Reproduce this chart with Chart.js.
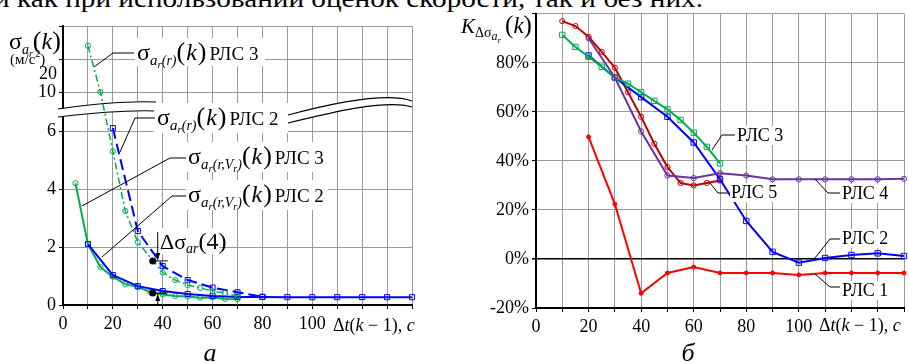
<!DOCTYPE html>
<html>
<head>
<meta charset="utf-8">
<script src="https://cdn.jsdelivr.net/npm/chart.js@4.4.1/dist/chart.umd.min.js"></script>
<style>
  html, body { margin: 0; padding: 0; background: #fff; }
  body { width: 909px; height: 363px; position: relative; overflow: hidden; }
  #left { position: absolute; left: 0; top: 0; }
  #right { position: absolute; left: 450px; top: 0; }
  #cap { position: absolute; left: 0; top: 0; }
</style>
</head>
<body>
<svg id="cap" width="909" height="20">
  <text x="-6" y="7" font-family="'Liberation Serif', 'Times New Roman', serif" font-size="26" textLength="709" lengthAdjust="spacingAndGlyphs">и как при использовании оценок скорости, так и без них.</text>
</svg>
<canvas id="left" width="450" height="363"></canvas>
<canvas id="right" width="459" height="363"></canvas>
<script>
const SERIF = '"Liberation Serif", "Times New Roman", serif';

// ---- chart a: sigma a_r (m/s^2) vs dt(k-1), s ----
const rVr3X = [5, 10, 15, 20, 25, 30, 35, 40, 45, 50, 55, 60, 65, 70];
const rVr3Y = [4.2, 2.1, 1.31, 0.97, 0.72, 0.62, 0.45, 0.36, 0.31, 0.29, 0.25, 0.26, 0.21, 0.2];
const rVr2X = [10, 20, 30, 40, 50, 60, 70, 80, 90, 100, 110, 120, 130, 140];
const rVr2Y = [2.1, 1.03, 0.65, 0.48, 0.38, 0.31, 0.28, 0.28, 0.27, 0.27, 0.27, 0.27, 0.27, 0.27];
const r3X = [10, 15, 20, 25, 30, 40, 45, 50, 55, 60, 65, 70];
const r3Y = [24, 10, 5.3, 3.24, 2.17, 1.12, 0.86, 0.69, 0.59, 0.48, 0.41, 0.3];
const r2X = [20, 30, 40, 50, 60, 70, 80];
const r2Y = [6.1, 2.55, 1.34, 0.86, 0.6, 0.44, 0.28];
const leftXLabels = [0, 20, 40, 60, 80, 100];
const leftYTicks = [0, 2, 4, 6, 10, 20, 30];
const deltaX = 36;
const deltaY = [1.52, 0.41];

// ---- chart b: K (%) vs dt(k-1), s ----
const rls1X = [20, 30, 40, 50, 60, 70, 80, 90, 100, 110, 120, 130, 140];
const rls1Y = [49.8, 22.4, -14, -5.7, -3.3, -5.7, -5.7, -5.7, -6.5, -5.7, -5.7, -5.7, -5.7];
const rls2X = [20, 30, 40, 50, 60, 70, 80, 90, 100, 110, 120, 130, 140];
const rls2Y = [83, 74, 66, 58, 47.5, 32.5, 15.5, 2.9, -1.5, 0.4, 1.6, 2.3, 1.2];
const rls3X = [10, 15, 20, 25, 30, 35, 40, 45, 50, 55, 60, 65, 70];
const rls3Y = [91.4, 86.5, 82.5, 78.4, 74, 71.5, 68, 64.5, 61, 56.7, 51.5, 45.7, 39];
const rls4X = [20, 30, 40, 50, 60, 70, 80, 90, 100, 110, 120, 130, 140];
const rls4Y = [90, 74, 52, 34, 33, 35, 34, 32.5, 32.5, 32.5, 32.5, 32.5, 32.7];
const rls5X = [10, 15, 20, 25, 30, 35, 40, 45, 50, 55, 60, 65, 70];
const rls5Y = [97, 95, 90.6, 84.5, 78, 68, 58, 47, 37.5, 31, 30, 31, 32];
const rightXLabels = [0, 20, 40, 60, 80, 100];

// broken y axis of chart a: linear up to 7, squeezed 7..10, compressed above 10
function toD(v) {
  if (v <= 7) return v;
  if (v < 10) return 7 + (v - 7) * 0.115;
  return 7.345 + (v - 10) * 0.1138;
}
const pts = (xs, ys, f) => xs.map((x, i) => ({ x: x, y: f ? f(ys[i]) : ys[i] }));

function rich(ctx, x, y, parts) {
  ctx.textAlign = 'left';
  ctx.textBaseline = 'alphabetic';
  for (const p of parts) {
    ctx.font = p.f;
    ctx.fillText(p.t, x, y + (p.dy || 0));
    x += ctx.measureText(p.t).width + (p.sp || 0);
  }
  return x;
}
function poly(ctx, arr) {
  ctx.beginPath();
  ctx.moveTo(arr[0][0], arr[0][1]);
  for (let i = 1; i < arr.length; i++) ctx.lineTo(arr[i][0], arr[i][1]);
  ctx.stroke();
}
function whiteBox(ctx, x, y, w, h) {
  ctx.fillStyle = '#fff';
  ctx.fillRect(x, y, w, h);
  ctx.fillStyle = '#000';
}
function sigmaLabel(ctx, x, y, withV, rls) {
  const parts = [
    { t: 'σ', f: `24px ${SERIF}` },
    { t: 'a', f: `italic 15px ${SERIF}`, dy: 5 },
    { t: 'r', f: `italic 11px ${SERIF}`, dy: 8 },
    { t: withV ? '(r,' : '(r)', f: `italic 14px ${SERIF}`, dy: 5 }
  ];
  if (withV) {
    parts.push({ t: 'V', f: `italic 14px ${SERIF}`, dy: 5 });
    parts.push({ t: 'r', f: `italic 10px ${SERIF}`, dy: 8 });
    parts.push({ t: ')', f: `italic 14px ${SERIF}`, dy: 5 });
  }
  parts.push({ t: '(', f: `26px ${SERIF}`, sp: 1 });
  parts.push({ t: 'k', f: `italic 24px ${SERIF}`, sp: 1 });
  parts.push({ t: ')', f: `26px ${SERIF}`, sp: 3 });
  parts.push({ t: 'РЛС ' + rls, f: `19px ${SERIF}` });
  return rich(ctx, x, y, parts);
}

const leftDecor = {
  id: 'leftDecor',
  beforeDatasetsDraw(chart) {
    const ctx = chart.ctx;
    ctx.save();
    // axis break band
    const bands = [
      [[58, 109], [100, 103], [133, 101], [156, 102], [156, 111], [133, 110], [100, 112], [58, 117]],
      [[288, 115], [333, 103], [387, 92], [412, 101], [412, 107], [387, 99], [333, 112], [288, 123]]
    ];
    for (const b of bands) {
      ctx.fillStyle = '#fff';
      ctx.beginPath();
      ctx.moveTo(b[0][0], b[0][1]);
      ctx.bezierCurveTo(b[1][0], b[1][1], b[2][0], b[2][1], b[3][0], b[3][1]);
      ctx.lineTo(b[4][0], b[4][1]);
      ctx.bezierCurveTo(b[5][0], b[5][1], b[6][0], b[6][1], b[7][0], b[7][1]);
      ctx.closePath();
      ctx.fill();
      ctx.strokeStyle = '#000';
      ctx.lineWidth = 1.2;
      ctx.beginPath();
      ctx.moveTo(b[0][0], b[0][1]);
      ctx.bezierCurveTo(b[1][0], b[1][1], b[2][0], b[2][1], b[3][0], b[3][1]);
      ctx.stroke();
      ctx.beginPath();
      ctx.moveTo(b[7][0], b[7][1]);
      ctx.bezierCurveTo(b[6][0], b[6][1], b[5][0], b[5][1], b[4][0], b[4][1]);
      ctx.stroke();
    }
    ctx.restore();
  },
  afterDraw(chart) {
    const ctx = chart.ctx;
    const xs = chart.scales.x, ys = chart.scales.y;
    ctx.save();
    ctx.fillStyle = '#000';
    ctx.strokeStyle = '#000';
    ctx.lineWidth = 1;
    // y title
    rich(ctx, 9, 49, [
      { t: 'σ', f: `24px ${SERIF}` },
      { t: 'a', f: `italic 14px ${SERIF}`, dy: 5 },
      { t: 'r', f: `italic 10px ${SERIF}`, dy: 8 },
      { t: '(', f: `26px ${SERIF}` },
      { t: 'k', f: `italic 24px ${SERIF}` },
      { t: ')', f: `26px ${SERIF}` }
    ]);
    rich(ctx, 10, 64, [
      { t: '(м/с', f: `15px ${SERIF}` },
      { t: '2', f: `10px ${SERIF}`, dy: -7 },
      { t: ')', f: `15px ${SERIF}` }
    ]);
    ctx.font = `18px ${SERIF}`;
    ctx.textAlign = 'right';
    ctx.fillText('20', 57, 79);
    // x title and panel letter
    rich(ctx, 333, 331, [
      { t: 'Δ', f: `18px ${SERIF}` },
      { t: 't', f: `italic 18px ${SERIF}` },
      { t: '(', f: `18px ${SERIF}` },
      { t: 'k', f: `italic 18px ${SERIF}` },
      { t: ' − 1), ', f: `18px ${SERIF}` },
      { t: 'с', f: `italic 18px ${SERIF}` }
    ]);
    ctx.font = `italic 26px ${SERIF}`;
    ctx.textAlign = 'center';
    ctx.fillText('а', 210, 361);

    // curve labels
    whiteBox(ctx, 135, 38, 130, 28);
    sigmaLabel(ctx, 137, 60, false, 3);
    poly(ctx, [[94, 67], [113, 53], [134, 53]]);
    whiteBox(ctx, 154, 103, 134, 30);
    sigmaLabel(ctx, 157, 125, false, 2);
    poly(ctx, [[120, 152], [135, 118], [155, 118]]);
    whiteBox(ctx, 186, 142, 142, 30);
    sigmaLabel(ctx, 188, 164, true, 3);
    poly(ctx, [[82, 206], [170, 158], [186, 158]]);
    whiteBox(ctx, 186, 180, 142, 30);
    sigmaLabel(ctx, 188, 202, true, 2);
    poly(ctx, [[102, 257], [172, 196], [186, 196]]);

    // delta sigma marker
    const dx = xs.getPixelForValue(deltaX);
    const ax = xs.getPixelForValue(deltaX + 2);
    const ex = xs.getPixelForValue(deltaX + 6);
    const y1 = ys.getPixelForValue(toD(deltaY[0]));
    const y2 = ys.getPixelForValue(toD(deltaY[1]));
    whiteBox(ctx, 159, 228, 60, 26);
    rich(ctx, 160, 249, [
      { t: 'Δσ', f: `22px ${SERIF}` },
      { t: 'ar', f: `italic 14px ${SERIF}`, dy: 4 },
      { t: '(4)', f: `24px ${SERIF}` }
    ]);
    for (const yy of [y1, y2]) {
      ctx.beginPath();
      ctx.arc(dx, yy, 3.5, 0, Math.PI * 2);
      ctx.fill();
      poly(ctx, [[dx, yy], [ex, yy]]);
    }
    poly(ctx, [[ax, 232], [ax, y1 - 1]]);
    ctx.beginPath();
    ctx.moveTo(ax, y1 - 1); ctx.lineTo(ax - 2.5, y1 - 8); ctx.lineTo(ax + 2.5, y1 - 8); ctx.closePath(); ctx.fill();
    poly(ctx, [[ax, 306], [ax, y2 + 1]]);
    ctx.beginPath();
    ctx.moveTo(ax, y2 + 1); ctx.lineTo(ax - 2.5, y2 + 8); ctx.lineTo(ax + 2.5, y2 + 8); ctx.closePath(); ctx.fill();
    ctx.restore();
  }
};

const rightDecor = {
  id: 'rightDecor',
  afterDraw(chart) {
    const ctx = chart.ctx;
    ctx.save();
    ctx.translate(-450, 0);
    ctx.fillStyle = '#000';
    ctx.strokeStyle = '#000';
    ctx.lineWidth = 1;
    rich(ctx, 461, 33, [
      { t: 'K', f: `italic 21px ${SERIF}` },
      { t: 'Δσ', f: `14px ${SERIF}`, dy: 4 },
      { t: 'a', f: `italic 12px ${SERIF}`, dy: 7 },
      { t: 'r', f: `italic 9px ${SERIF}`, dy: 10, sp: 4 },
      { t: '(', f: `25px ${SERIF}` },
      { t: 'k', f: `italic 23px ${SERIF}` },
      { t: ')', f: `25px ${SERIF}` }
    ]);
    rich(ctx, 819, 331, [
      { t: 'Δ', f: `18px ${SERIF}` },
      { t: 't', f: `italic 18px ${SERIF}` },
      { t: '(', f: `18px ${SERIF}` },
      { t: 'k', f: `italic 18px ${SERIF}` },
      { t: ' − 1), ', f: `18px ${SERIF}` },
      { t: 'с', f: `italic 18px ${SERIF}` }
    ]);
    ctx.font = `italic 26px ${SERIF}`;
    ctx.textAlign = 'center';
    ctx.fillText('б', 688, 361);

    const labels = [
      ['РЛС 3', 737, 141, [[712, 150], [722, 135], [735, 135]]],
      ['РЛС 5', 731, 198, [[710, 183], [718, 193], [729, 193]]],
      ['РЛС 4', 842, 199, [[815, 179], [828, 193], [840, 193]]],
      ['РЛС 2', 842, 244, [[815, 258], [830, 239], [840, 239]]],
      ['РЛС 1', 842, 296, [[815, 274], [830, 287], [840, 287]]]
    ];
    for (const [t, x, y, line] of labels) {
      ctx.font = `18px ${SERIF}`;
      const w = ctx.measureText(t).width;
      whiteBox(ctx, x - 1, y - 15, w + 3, 19);
      ctx.textAlign = 'left';
      ctx.fillText(t, x, y);
      poly(ctx, line);
    }
    ctx.restore();
  }
};

const tickFont = { family: SERIF, size: 18 };

new Chart(document.getElementById('left'), {
  type: 'line',
  data: {
    datasets: [
      { data: pts(r3X, r3Y, toD), borderColor: '#00b050', borderWidth: 1.5, borderDash: [7, 3, 2, 3],
        pointStyle: 'circle', pointRadius: 2.6, pointBorderColor: '#00b050', pointBackgroundColor: 'rgba(255,255,255,0)', pointBorderWidth: 1 },
      { data: pts(r2X, r2Y, toD), borderColor: '#0000ff', borderWidth: 2, borderDash: [11, 5],
        pointStyle: 'rect', pointRadius: 3.6, pointBorderColor: '#0000ff', pointBackgroundColor: 'rgba(255,255,255,0)', pointBorderWidth: 1 },
      { data: pts(rVr2X, rVr2Y, toD), borderColor: '#0000ff', borderWidth: 2,
        pointStyle: 'rect', pointRadius: 3.6, pointBorderColor: '#0000ff', pointBackgroundColor: 'rgba(255,255,255,0)', pointBorderWidth: 1 },
      { data: pts(rVr3X, rVr3Y, toD), borderColor: '#00b050', borderWidth: 2,
        pointStyle: 'circle', pointRadius: 2.6, pointBorderColor: '#00b050', pointBackgroundColor: 'rgba(255,255,255,0)', pointBorderWidth: 1 }
    ]
  },
  options: {
    responsive: false,
    animation: false,
    devicePixelRatio: 1,
    layout: { padding: { left: 0, right: 38, top: 26, bottom: 0 } },
    elements: { line: { tension: 0 } },
    datasets: { line: { clip: false } },
    plugins: { legend: { display: false }, tooltip: { enabled: false } },
    scales: {
      x: {
        type: 'linear', min: 0, max: 140,
        afterFit: (s) => { s.height = 58; },
        ticks: { stepSize: 10, autoSkip: false, maxRotation: 0, color: '#000', font: tickFont, padding: 4,
          callback: (v) => leftXLabels.includes(v) ? String(v) : '' },
        grid: { color: '#9a9a9a', lineWidth: 1, tickLength: 4, tickColor: '#000' },
        border: { display: true, color: '#000', width: 2 }
      },
      y: {
        type: 'linear', min: 0, max: toD(30),
        afterFit: (s) => { s.width = 63; },
        afterBuildTicks: (s) => { s.ticks = leftYTicks.map((v) => ({ value: toD(v) })); },
        ticks: { color: '#000', font: tickFont, padding: 3,
          callback: (v) => {
            const real = leftYTicks.find((t) => Math.abs(toD(t) - v) < 1e-6);
            return real === undefined || real === 20 || real === 30 ? '' : String(real);
          } },
        grid: { color: '#9a9a9a', lineWidth: 1, tickLength: 4, tickColor: '#000' },
        border: { display: true, color: '#000', width: 2 }
      }
    }
  },
  plugins: [leftDecor]
});

const mk = (xs, ys, color, style, r, fill) => ({
  data: pts(xs, ys), borderColor: color, borderWidth: 2,
  pointStyle: style, pointRadius: r, pointBorderColor: color,
  pointBackgroundColor: fill ? color : 'rgba(255,255,255,0)', pointBorderWidth: 1
});

new Chart(document.getElementById('right'), {
  type: 'line',
  data: {
    datasets: [
      mk(rls1X, rls1Y, '#ff0000', 'circle', 2, true),
      mk(rls4X, rls4Y, '#7030a0', 'circle', 2.6, false),
      mk(rls3X, rls3Y, '#00b050', 'rect', 3.8, false),
      mk(rls2X, rls2Y, '#0000ff', 'rect', 3.8, false),
      mk(rls5X, rls5Y, '#c00000', 'circle', 2.6, false)
    ]
  },
  options: {
    responsive: false,
    animation: false,
    devicePixelRatio: 1,
    layout: { padding: { left: 0, right: 4, top: 13, bottom: 0 } },
    elements: { line: { tension: 0 } },
    datasets: { line: { clip: false } },
    plugins: { legend: { display: false }, tooltip: { enabled: false } },
    scales: {
      x: {
        type: 'linear', min: 0, max: 140,
        afterFit: (s) => { s.height = 55; },
        ticks: { stepSize: 10, autoSkip: false, maxRotation: 0, color: '#000', font: tickFont, padding: 4,
          callback: (v) => rightXLabels.includes(v) ? String(v) : '' },
        grid: { color: '#9a9a9a', lineWidth: 1, tickLength: 4, tickColor: '#000' },
        border: { display: true, color: '#000', width: 2 }
      },
      y: {
        type: 'linear', min: -20, max: 100,
        afterFit: (s) => { s.width = 86; },
        ticks: { stepSize: 20, color: '#000', font: tickFont, padding: 3,
          callback: (v) => v === 100 ? '' : v + '%' },
        grid: { color: (c) => c.tick && c.tick.value === 0 ? '#000' : '#9a9a9a',
          lineWidth: (c) => c.tick && c.tick.value === 0 ? 1.5 : 1, tickLength: 4, tickColor: '#000' },
        border: { display: true, color: '#000', width: 2 }
      }
    }
  },
  plugins: [rightDecor]
});
</script>
</body>
</html>
